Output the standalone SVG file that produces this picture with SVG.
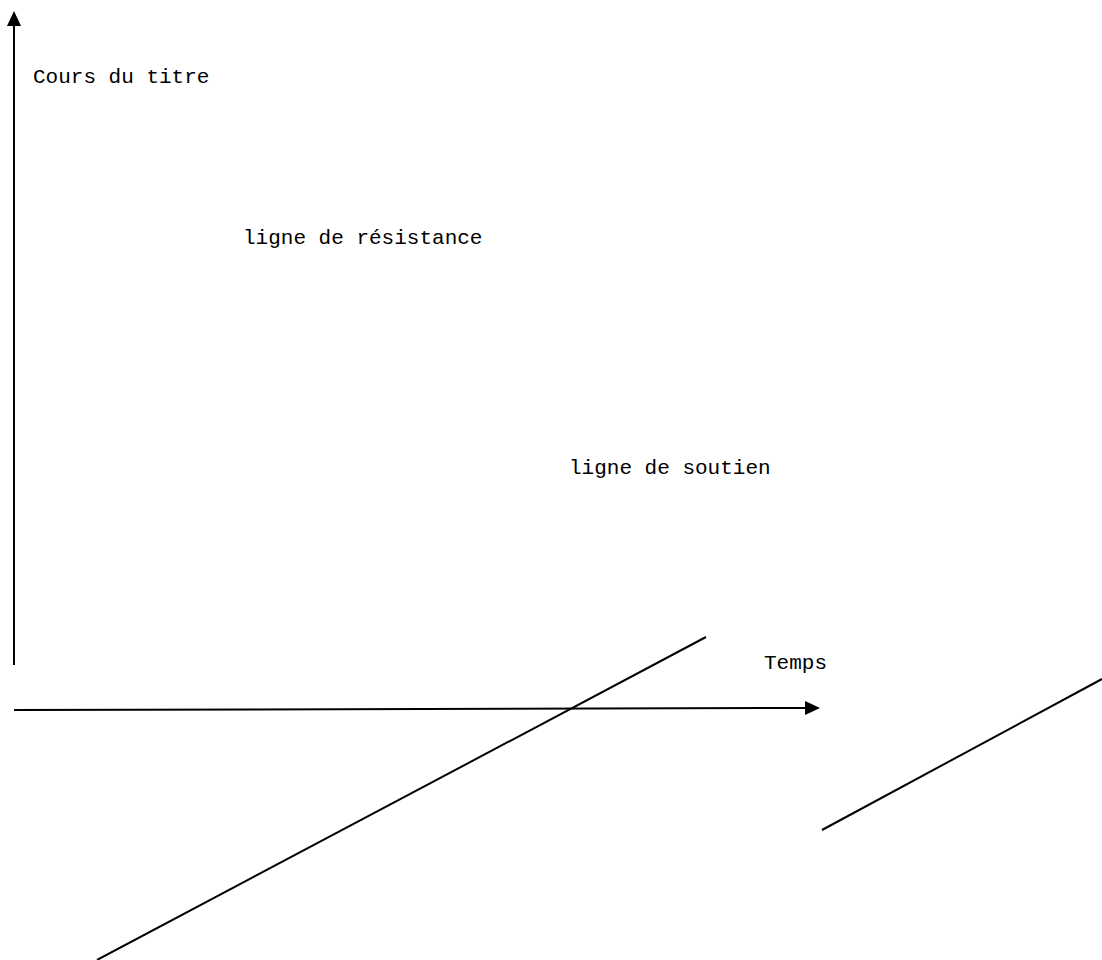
<svg xmlns="http://www.w3.org/2000/svg" width="1102" height="960" viewBox="0 0 1102 960">
<style>
.t{font-family:"Liberation Mono",monospace;font-size:21px;fill:#000}
.l{stroke:#000;stroke-width:2;fill:none}
</style>
<rect width="1102" height="960" fill="#fff"/>
<g id="connectors">
<path class="l" d="M14,665 L14,14"/>
<path d="M14,11 L7,26 L21,26 Z" fill="#000"/>
<path class="l" d="M14,710 L806,708"/>
<path d="M820,708 L805,701 L805,715 Z" fill="#000"/>
<path class="l" d="M97,960 L706,637"/>
<path class="l" d="M822,830 L1102,679"/>
</g>
<g id="label-cours"><text class="t" x="33" y="83">Cours du titre</text></g>
<g id="label-resistance"><text class="t" x="243" y="244">ligne de résistance</text></g>
<g id="label-soutien"><text class="t" x="569" y="474">ligne de soutien</text></g>
<g id="label-temps"><text class="t" x="764" y="669">Temps</text></g>
</svg>
